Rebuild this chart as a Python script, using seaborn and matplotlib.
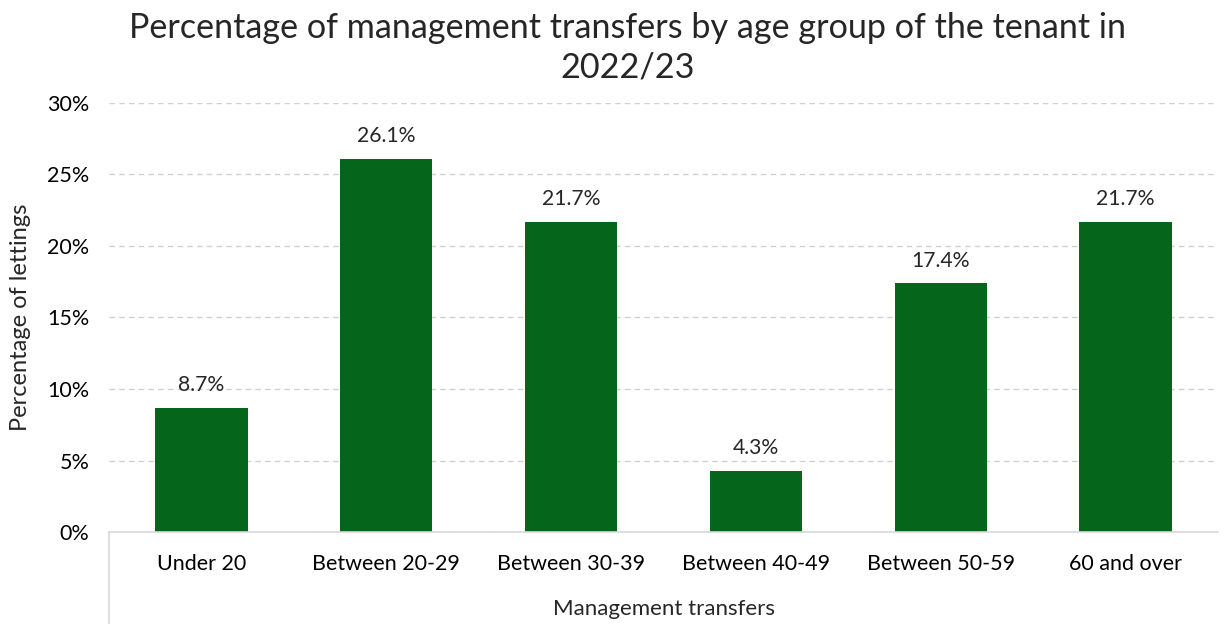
import matplotlib
matplotlib.use("Agg")
import matplotlib.pyplot as plt
import seaborn as sns
import pandas as pd
from matplotlib.lines import Line2D
from matplotlib.ticker import FuncFormatter

categories = ["Under 20", "Between 20-29", "Between 30-39", "Between 40-49", "Between 50-59", "60 and over"]
values = [8.7, 26.1, 21.7, 4.3, 17.4, 21.7]
yticks = [0, 5, 10, 15, 20, 25, 30]

df = pd.DataFrame({"cat": categories, "val": values})

sns.set_theme(style="white")
plt.rcParams['font.family'] = ['Lato', 'DejaVu Sans']

fig = plt.figure(figsize=(12.26, 6.24), dpi=100)
ax = fig.add_axes([0.0889, 0.1474, 0.9046, 0.6876])

sns.barplot(data=df, x="cat", y="val", color="#05651A", width=0.5, ax=ax, saturation=1)
for p in ax.patches:
    p.set_edgecolor("none")

ax.set_ylim(0, 30)
ax.set_yticks(yticks)
ax.yaxis.set_major_formatter(FuncFormatter(lambda v, _: f"{int(v)}%"))
ax.set_xlim(-0.5, 5.5)
ax.grid(axis="y", color="#D0D0D0", linestyle=(0, (4, 3)), linewidth=1)
ax.set_axisbelow(True)
for s in ["top", "right", "left"]:
    ax.spines[s].set_visible(False)
ax.spines["bottom"].set_color("#D9D9D9")
ax.spines["bottom"].set_linewidth(1.2)
ax.tick_params(axis="both", length=0, labelsize=15.5, colors="black")
ax.tick_params(axis="x", pad=16)
ax.tick_params(axis="y", pad=14)

for i, v in enumerate(values):
    ax.annotate(f"{v}%", (i, v), xytext=(0, 9), textcoords="offset points",
                ha="center", va="bottom", fontsize=15.2)

ax.set_xlabel("Management transfers", fontsize=16, labelpad=18)
ax.set_ylabel("Percentage of lettings", fontsize=17, labelpad=12)

fig.add_artist(Line2D([0.0889, 0.0889], [0.0, 0.1474], transform=fig.transFigure,
                      color="#D9D9D9", linewidth=1.2))

fig.suptitle("Percentage of management transfers by age group of the tenant in\n2022/23",
             fontsize=24.6, y=0.98, x=0.512, linespacing=1.28)

fig.savefig("out.png", dpi=100)
